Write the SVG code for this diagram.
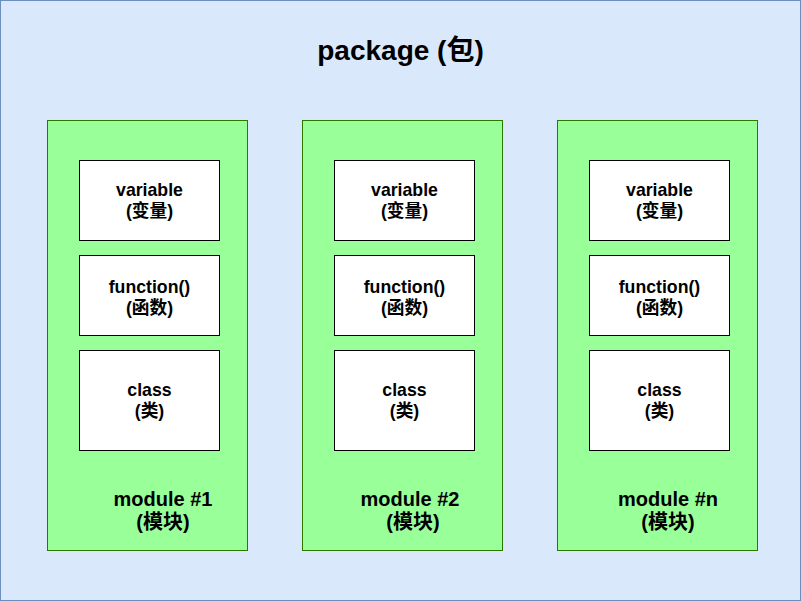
<svg xmlns="http://www.w3.org/2000/svg" width="801" height="601" viewBox="0 0 801 601">
<style>
text{font-family:"Liberation Sans","Noto Sans CJK SC",sans-serif;font-weight:bold;fill:#000;text-anchor:middle}
.mod{fill:#99ff99;stroke:#2d7600}
.item{fill:#fff;stroke:#000}
.t{font-size:17.7px}
.m{font-size:20px}
</style>
<rect x="0.5" y="0.5" width="800" height="600" fill="#dae8fc" stroke="#6c8ebf"/>
<text x="400.5" y="60" style="font-size:28px">package (包)</text>
<g id="module1">
<rect class="mod" x="47.5" y="120.5" width="200" height="430"/>
<text class="m" x="163" y="506">module #1</text>
<text class="m" x="163" y="529">(模块)</text>
</g>
<g id="m1-variable"><rect class="item" x="79.5" y="160.5" width="140" height="80"/><text class="t" x="149.5" y="196">variable</text><text class="t" x="149.5" y="217">(变量)</text></g>
<g id="m1-function"><rect class="item" x="79.5" y="255.5" width="140" height="80"/><text class="t" x="149.5" y="293">function()</text><text class="t" x="149.5" y="314">(函数)</text></g>
<g id="m1-class"><rect class="item" x="79.5" y="350.5" width="140" height="100"/><text class="t" x="149.5" y="396">class</text><text class="t" x="149.5" y="417">(类)</text></g>
<g id="module2">
<rect class="mod" x="302.5" y="120.5" width="200" height="430"/>
<text class="m" x="410" y="506">module #2</text>
<text class="m" x="413" y="529">(模块)</text>
</g>
<g id="m2-variable"><rect class="item" x="334.5" y="160.5" width="140" height="80"/><text class="t" x="404.5" y="196">variable</text><text class="t" x="404.5" y="217">(变量)</text></g>
<g id="m2-function"><rect class="item" x="334.5" y="255.5" width="140" height="80"/><text class="t" x="404.5" y="293">function()</text><text class="t" x="404.5" y="314">(函数)</text></g>
<g id="m2-class"><rect class="item" x="334.5" y="350.5" width="140" height="100"/><text class="t" x="404.5" y="396">class</text><text class="t" x="404.5" y="417">(类)</text></g>
<g id="module3">
<rect class="mod" x="557.5" y="120.5" width="200" height="430"/>
<text class="m" x="668" y="506">module #n</text>
<text class="m" x="668" y="529">(模块)</text>
</g>
<g id="m3-variable"><rect class="item" x="589.5" y="160.5" width="140" height="80"/><text class="t" x="659.5" y="196">variable</text><text class="t" x="659.5" y="217">(变量)</text></g>
<g id="m3-function"><rect class="item" x="589.5" y="255.5" width="140" height="80"/><text class="t" x="659.5" y="293">function()</text><text class="t" x="659.5" y="314">(函数)</text></g>
<g id="m3-class"><rect class="item" x="589.5" y="350.5" width="140" height="100"/><text class="t" x="659.5" y="396">class</text><text class="t" x="659.5" y="417">(类)</text></g>
<g id="connectors"/>
</svg>
